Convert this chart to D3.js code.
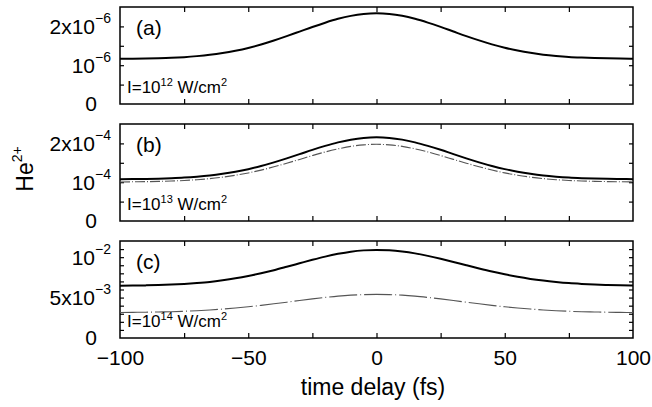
<!DOCTYPE html>
<html>
<head>
<meta charset="utf-8">
<script src="https://cdn.jsdelivr.net/npm/d3@7/dist/d3.min.js"></script>
<style>
  html, body { margin: 0; padding: 0; background: #fff; }
  svg { display: block; font-family: "Liberation Sans", Arial, Helvetica, sans-serif; }
</style>
</head>
<body>
<svg id="chart" width="652" height="407"></svg>
<script>
// ---- data ----
const delay = [-100,-95,-90,-85,-80,-75,-70,-65,-60,-55,-50,-45,-40,-35,-30,-25,-20,-15,-10,-5,0,5,10,15,20,25,30,35,40,45,50,55,60,65,70,75,80,85,90,95,100];

// panel (a), I = 1e12 W/cm^2, units 1e-6
const heA = [1.166,1.168,1.172,1.179,1.190,1.208,1.234,1.268,1.314,1.373,1.445,1.533,1.636,1.748,1.866,1.985,2.096,2.195,2.271,2.319,2.336,2.320,2.272,2.196,2.098,1.987,1.868,1.750,1.639,1.537,1.449,1.377,1.318,1.272,1.239,1.214,1.198,1.186,1.178,1.172,1.168];

// panel (b), I = 1e13 W/cm^2, units 1e-4
const heBsolid = [1.076,1.080,1.085,1.092,1.103,1.118,1.141,1.172,1.215,1.269,1.336,1.417,1.511,1.614,1.723,1.834,1.936,2.026,2.096,2.141,2.157,2.142,2.097,2.027,1.937,1.835,1.724,1.615,1.512,1.418,1.337,1.270,1.216,1.173,1.142,1.119,1.104,1.093,1.086,1.082,1.078];
const heBdash  = [1.006,1.010,1.014,1.021,1.030,1.044,1.064,1.092,1.130,1.179,1.239,1.312,1.397,1.489,1.587,1.686,1.779,1.859,1.923,1.962,1.977,1.963,1.924,1.860,1.780,1.687,1.588,1.490,1.398,1.313,1.240,1.180,1.131,1.093,1.065,1.045,1.031,1.022,1.015,1.011,1.008];

// panel (c), I = 1e14 W/cm^2, units 1e-3
const heCsolid = [6.47,6.48,6.51,6.55,6.61,6.69,6.80,6.94,7.14,7.38,7.67,8.01,8.39,8.81,9.24,9.67,10.07,10.41,10.68,10.84,10.90,10.85,10.70,10.47,10.16,9.80,9.41,9.00,8.60,8.22,7.88,7.57,7.31,7.10,6.93,6.79,6.69,6.61,6.56,6.52,6.49];
const heCdash  = [3.15,3.17,3.19,3.22,3.25,3.31,3.38,3.47,3.58,3.71,3.86,4.04,4.23,4.43,4.64,4.84,5.02,5.18,5.30,5.37,5.40,5.37,5.30,5.18,5.02,4.84,4.64,4.43,4.23,4.04,3.86,3.71,3.58,3.47,3.38,3.31,3.25,3.22,3.19,3.17,3.15];

const panelNames = ["(a)", "(b)", "(c)"];
const intensityExp = ["12", "13", "14"];
const unitScale = [1e-6, 1e-4, 1e-3];
const yMax = [2.5e-6, 2.5e-4, 1.2e-2];
const yMinorStep = [0.5e-6, 0.5e-4, 1e-3];
// labelled y ticks: [value, mantissa text, exponent text]
const yLabels = [
  [[0, "0", ""], [1e-6, "10", "\u22126"], [2e-6, "2x10", "\u22126"]],
  [[0, "0", ""], [1e-4, "10", "\u22124"], [2e-4, "2x10", "\u22124"]],
  [[0, "0", ""], [5e-3, "5x10", "\u22123"], [1e-2, "10", "\u22122"]]
];
const xTicks = [-100,-75,-50,-25,0,25,50,75,100];
const xLabelTicks = [-100,-50,0,50,100];

const seriesSets = [
  [heA],
  [heBsolid, heBdash],
  [heCsolid, heCdash]
];

// ---- layout ----
const svg = d3.select("#chart");
const left = 120, right = 633;
const panelTop = [7, 124, 241];
const panelH = 97;

const x = d3.scaleLinear().domain([-100, 100]).range([left, right]);

const line = (y, s) => d3.line()
  .x((d, i) => x(delay[i]))
  .y(d => y(d * s))
  .curve(d3.curveMonotoneX);

panelNames.forEach((name, p) => {
  const top = panelTop[p], bot = top + panelH;
  const y = d3.scaleLinear().domain([0, yMax[p]]).range([bot, top]);
  const g = svg.append("g");

  const yt = d3.range(0, yMax[p] + yMinorStep[p] * 0.01, yMinorStep[p]).filter(v => v > 1e-12 && v < yMax[p] - 1e-12);
  g.append("g").attr("transform", `translate(${left},0)`)
    .call(d3.axisLeft(y).tickValues(yt).tickSizeInner(-4).tickSizeOuter(0).tickFormat(""))
    .call(a => a.select(".domain").remove());
  g.append("g").attr("transform", `translate(${right},0)`)
    .call(d3.axisRight(y).tickValues(yt).tickSizeInner(-4).tickSizeOuter(0).tickFormat(""))
    .call(a => a.select(".domain").remove());

  g.append("g").attr("transform", `translate(0,${bot})`)
    .call(d3.axisBottom(x).tickValues(xTicks.slice(1, -1)).tickSizeInner(-5).tickSizeOuter(0).tickFormat(""))
    .call(a => a.select(".domain").remove());
  g.append("g").attr("transform", `translate(0,${top})`)
    .call(d3.axisTop(x).tickValues(xTicks.slice(1, -1)).tickSizeInner(-5).tickSizeOuter(0).tickFormat(""))
    .call(a => a.select(".domain").remove());

  g.selectAll(".tick line").attr("stroke", "#000").attr("stroke-width", 1.2);

  const labAxis = g.append("g").attr("transform", `translate(${left},0)`)
    .call(d3.axisLeft(y).tickValues(yLabels[p].map(d => d[0])).tickSize(0).tickPadding(9).tickFormat(""));
  labAxis.select(".domain").remove();
  labAxis.selectAll(".tick text").each(function(v, i) {
    const info = yLabels[p][i];
    const t = d3.select(this)
      .attr("font-size", 21)
      .attr("fill", "#000")
      .attr("font-family", "Liberation Sans, Arial, sans-serif")
      .attr("dy", "0.33em");
    if (info[2] === "") {
      t.attr("x", -23).text(info[1]);
    } else {
      t.append("tspan").text(info[1]);
      t.append("tspan").attr("font-size", 14).attr("dy", -11).text(info[2]);
    }
  });

  g.append("rect").attr("x", left).attr("y", top).attr("width", right - left).attr("height", panelH)
    .attr("fill", "none").attr("stroke", "#000").attr("stroke-width", 1.5);

  const sets = seriesSets[p];
  g.append("path").datum(sets[0]).attr("d", line(y, unitScale[p]))
    .attr("fill", "none").attr("stroke", "#000").attr("stroke-width", 2);
  if (sets[1]) {
    g.append("path").datum(sets[1]).attr("d", line(y, unitScale[p]))
      .attr("fill", "none").attr("stroke", "#555").attr("stroke-width", 1.1)
      .attr("stroke-dasharray", p === 1 ? "10,2,1,2" : "28,3,1,3");
  }

  g.append("text").attr("x", 136).attr("y", top + 28).attr("font-size", 21).text(name);

  const it = g.append("text").attr("x", 127).attr("y", top + 86).attr("font-size", 17);
  it.append("tspan").text("I=10");
  it.append("tspan").attr("font-size", 11).attr("dy", -7).text(intensityExp[p]);
  it.append("tspan").attr("dy", 7).text(" W/cm");
  it.append("tspan").attr("font-size", 11).attr("dy", -7).text("2");
});

const bottom = panelTop[2] + panelH;
svg.append("g").attr("transform", `translate(0,${bottom})`)
  .call(d3.axisBottom(x).tickValues(xLabelTicks).tickSize(0).tickPadding(12))
  .call(a => a.select(".domain").remove())
  .call(a => a.selectAll("text").attr("font-size", 21).attr("fill", "#000")
    .attr("font-family", "Liberation Sans, Arial, sans-serif"));

svg.append("text").attr("x", 373).attr("y", 395).attr("text-anchor", "middle")
  .attr("font-size", 23).text("time delay (fs)");

const ytl = svg.append("text").attr("transform", "translate(33,169) rotate(-90)")
  .attr("text-anchor", "middle").attr("font-size", 23);
ytl.append("tspan").text("He");
ytl.append("tspan").attr("font-size", 14).attr("dy", -11).text("2+");
</script>
</body>
</html>
